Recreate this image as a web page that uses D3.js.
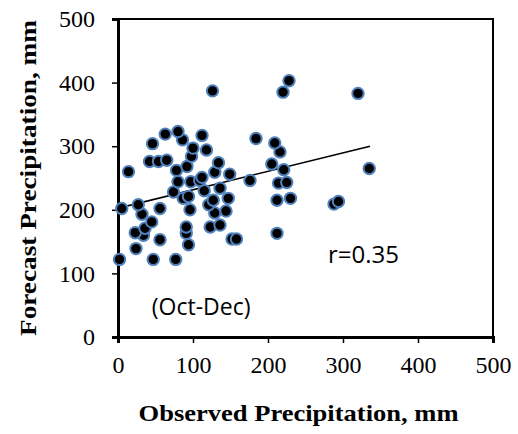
<!DOCTYPE html>
<html>
<head>
<meta charset="utf-8">
<script src="https://cdn.jsdelivr.net/npm/d3@7"></script>
<style>
  body { margin: 0; background: #fff; }
  svg { display: block; }
</style>
</head>
<body>
<svg id="chart" width="518" height="434"></svg>
<script>
// observed (x) vs forecast (y), mm
const observed = [2, 47, 77, 24, 94, 56, 152, 158, 34, 23, 91, 212, 36, 91, 123, 136, 45, 32, 129, 144,
  96, 5, 56, 27, 121, 127, 147, 87, 94, 212, 230, 288, 294, 74, 115, 136, 80, 97, 109, 176,
  214, 225, 112, 149, 129, 14, 78, 221, 335, 92, 134, 205, 42, 54, 65, 98, 216, 118, 100, 46,
  209, 86, 184, 112, 63, 80, 126, 220, 228, 320];
const forecast = [122, 122, 122, 139, 145, 153, 154, 154, 160, 164, 163, 163, 171, 173, 173, 176, 181, 193, 195, 198,
  200, 202, 202, 208, 208, 215, 218, 218, 221, 215, 218, 209, 213, 228, 230, 234, 244, 244, 246, 246,
  242, 243, 251, 256, 259, 260, 262, 263, 265, 268, 274, 272, 276, 276, 278, 284, 291, 294, 297, 304,
  305, 310, 312, 317, 319, 323, 387, 385, 403, 383];
const trendX = [2, 336];
const trendY = [203, 300];
const xTicks = [0, 100, 200, 300, 400, 500];
const yTicks = [0, 100, 200, 300, 400, 500];

const svg = d3.select("#chart");
const margin = { top: 19, right: 25, bottom: 97, left: 118 };
const width = 518 - margin.left - margin.right,
  height = 434 - margin.top - margin.bottom;

const serif = "'Liberation Serif', serif";

const x = d3.scaleLinear().domain([0, 500]).range([margin.left, margin.left + width]);
const y = d3.scaleLinear().domain([0, 500]).range([margin.top + height, margin.top]);

// frame
svg.append("rect")
  .attr("x", margin.left)
  .attr("y", margin.top)
  .attr("width", width)
  .attr("height", height)
  .attr("fill", "none")
  .attr("stroke", "#000")
  .attr("stroke-width", 2);

const xAxis = svg.append("g")
  .attr("transform", `translate(0,${margin.top + height})`)
  .call(d3.axisBottom(x).tickValues(xTicks).tickSize(6).tickPadding(13));

const yAxis = svg.append("g")
  .attr("transform", `translate(${margin.left},0)`)
  .call(d3.axisLeft(y).tickValues(yTicks).tickSize(6).tickPadding(17));

[xAxis, yAxis].forEach((g) => {
  g.attr("font-family", null).attr("font-size", null);
  g.select(".domain").attr("stroke-width", 3);
  g.selectAll(".tick line").attr("stroke-width", 1.5);
  g.selectAll(".tick text")
    .style("font-family", serif)
    .style("font-size", "24px")
    .attr("fill", "#000");
});

// trend line
const line = d3.line().x((d) => x(d[0])).y((d) => y(d[1]));
svg.append("path")
  .datum(d3.zip(trendX, trendY))
  .attr("fill", "none")
  .attr("stroke", "#000")
  .attr("stroke-width", 1.6)
  .attr("d", line);

svg.append("g")
  .selectAll("circle")
  .data(d3.zip(observed, forecast))
  .enter()
  .append("circle")
  .attr("cx", (d) => x(d[0]))
  .attr("cy", (d) => y(d[1]))
  .attr("r", 5.7)
  .attr("fill", "#000")
  .attr("stroke", "#4f81bd")
  .attr("stroke-width", 2);

svg.append("text")
  .attr("x", x(280))
  .attr("y", y(116))
  .style("font-family", "'Open Sans', sans-serif")
  .style("font-size", "24px")
  .text("r=0.35");

svg.append("text")
  .attr("x", x(45))
  .attr("y", y(35))
  .style("font-family", "'Open Sans', sans-serif")
  .style("font-size", "23px")
  .text("(Oct-Dec)");

svg.append("text")
  .attr("x", margin.left + width / 2 - 7)
  .attr("y", 421)
  .attr("text-anchor", "middle")
  .attr("textLength", 320)
  .attr("lengthAdjust", "spacingAndGlyphs")
  .style("font-family", serif)
  .style("font-weight", "bold")
  .style("font-size", "23px")
  .text("Observed Precipitation, mm");

svg.append("text")
  .attr("transform", `translate(36,${margin.top + height / 2}) rotate(-90)`)
  .attr("text-anchor", "middle")
  .attr("textLength", 316)
  .attr("lengthAdjust", "spacingAndGlyphs")
  .style("font-family", serif)
  .style("font-weight", "bold")
  .style("font-size", "23px")
  .text("Forecast Precipitation, mm");
</script>
</body>
</html>
